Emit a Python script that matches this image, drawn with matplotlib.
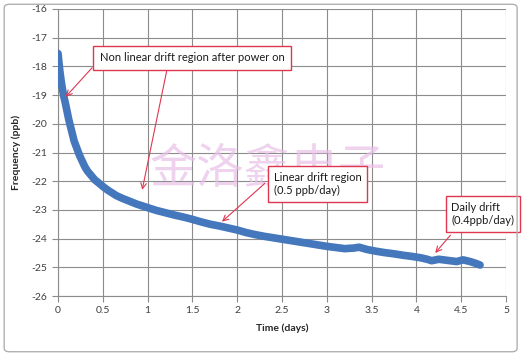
import matplotlib
matplotlib.use("Agg")
import matplotlib.pyplot as plt
from matplotlib.patches import FancyBboxPatch

# ---- data ----
time_days = [0.0, 0.01, 0.02, 0.035, 0.05, 0.065, 0.08, 0.1, 0.12, 0.14, 0.16, 0.18, 0.21,
             0.24, 0.27, 0.3, 0.33, 0.37, 0.41, 0.45, 0.5, 0.55, 0.6, 0.65, 0.72, 0.8,
             0.88, 0.95, 1.03, 1.1, 1.2, 1.3, 1.4, 1.5, 1.6, 1.7, 1.8, 1.9, 2.0, 2.1,
             2.2, 2.3, 2.4, 2.5, 2.6, 2.7, 2.8, 2.9, 3.0, 3.1, 3.2, 3.3, 3.36, 3.45,
             3.55, 3.65, 3.75, 3.85, 3.95, 4.05, 4.12, 4.17, 4.25, 4.35, 4.45, 4.52,
             4.6, 4.66, 4.71]
freq_ppb = [-17.55, -17.85, -18.15, -18.5, -18.8, -19.05, -19.25, -19.55, -19.85, -20.1,
            -20.35, -20.6, -20.85, -21.1, -21.3, -21.5, -21.65, -21.8, -21.95, -22.05,
            -22.18, -22.3, -22.4, -22.5, -22.6, -22.7, -22.8, -22.87, -22.95, -23.02,
            -23.1, -23.18, -23.25, -23.33, -23.42, -23.5, -23.56, -23.63, -23.7, -23.79,
            -23.86, -23.92, -23.97, -24.02, -24.07, -24.12, -24.17, -24.22, -24.27,
            -24.31, -24.35, -24.33, -24.3, -24.38, -24.44, -24.49, -24.53, -24.58,
            -24.62, -24.67, -24.72, -24.77, -24.72, -24.76, -24.8, -24.74, -24.8,
            -24.86, -24.92]

x_ticks = [0, 0.5, 1, 1.5, 2, 2.5, 3, 3.5, 4, 4.5, 5]
y_ticks = [-26, -25, -24, -23, -22, -21, -20, -19, -18, -17, -16]
x_tick_labels = ["0", "0.5", "1", "1.5", "2", "2.5", "3", "3.5", "4", "4.5", "5"]
y_tick_labels = ["-26", "-25", "-24", "-23", "-22", "-21", "-20", "-19", "-18", "-17", "-16"]

plt.rcParams['font.family'] = ['Lato', 'DejaVu Sans']

fig = plt.figure(figsize=(5.25, 3.56), dpi=100)
fig.patch.set_facecolor('white')

# outer chart border
border = FancyBboxPatch((0.008, 0.012), 0.977, 0.976, boxstyle="round,pad=0,rounding_size=0.01",
                        transform=fig.transFigure, facecolor='none', edgecolor='#b0b0b0',
                        linewidth=1.0)
fig.patches.append(border)

ax = fig.add_axes([58 / 525, 1 - 296 / 356, (506 - 58) / 525, (296 - 9) / 356])
ax.set_xlim(0, 5)
ax.set_ylim(-26, -16)
ax.set_xticks(x_ticks)
ax.set_xticklabels(x_tick_labels)
ax.set_yticks(y_ticks)
ax.set_yticklabels(y_tick_labels)
ax.grid(True, color='#8c8c8c', linewidth=0.8)
ax.set_axisbelow(True)
for side in ['top', 'right']:
    ax.spines[side].set_visible(False)
for side in ['left', 'bottom']:
    ax.spines[side].set_color('#8c8c8c')
    ax.spines[side].set_linewidth(0.8)
ax.tick_params(axis='both', colors='#8c8c8c', labelcolor='#404040', labelsize=7.5,
               length=4, width=0.8, direction='out')

ax.plot(time_days, freq_ppb, color='#4477bb', linewidth=5.5, solid_joinstyle='round',
        solid_capstyle='round', zorder=3)

ax.set_xlabel('Time (days)', fontsize=7.5, fontweight='bold', color='#262626', labelpad=6)
ax.set_ylabel('Frequency (ppb)', fontsize=7.5, fontweight='bold', color='#262626', labelpad=8)

# watermark, behind the annotation boxes
ax.text(0.51, 0.522, '金洛鑫电子', fontsize=34, color='#e8c0e8', alpha=0.7,
        family=['Noto Sans CJK SC', 'DejaVu Sans'], ha='center', va='center',
        transform=fig.transFigure, zorder=2.5)

red = '#e0364f'
box = dict(boxstyle='square,pad=0.5', facecolor='white', edgecolor=red, linewidth=1.0)
arrow = dict(arrowstyle='->', color=red, linewidth=0.8, shrinkA=0, shrinkB=0,
             mutation_scale=10)

ax.text(1.50, -17.7, 'Non linear drift region after power on', fontsize=8, color='#1a1a1a',
        ha='center', va='center', bbox=dict(boxstyle='square,pad=0.6', facecolor='white',
                                             edgecolor=red, linewidth=1.0), zorder=5)
ax.annotate('', xy=(0.085, -19.06), xytext=(0.38, -18.05), arrowprops=arrow, zorder=4)
ax.annotate('', xy=(0.94, -22.3), xytext=(1.22, -18.05), arrowprops=arrow, zorder=4)

ax.text(2.41, -22.1, 'Linear drift region\n(0.5 ppb/day)', fontsize=8, color='#1a1a1a',
        ha='left', va='center', linespacing=1.25, bbox=box, zorder=5)
ax.annotate('', xy=(1.83, -23.41), xytext=(2.31, -22.07), arrowprops=arrow, zorder=4)

ax.text(4.39, -23.15, 'Daily drift\n(0.4ppb/day)', fontsize=8, color='#1a1a1a',
        ha='left', va='center', linespacing=1.25, bbox=box, zorder=5, clip_on=False)
ax.annotate('', xy=(4.21, -24.5), xytext=(4.38, -23.88), arrowprops=arrow, zorder=4)

fig.savefig('out.png', dpi=100)
